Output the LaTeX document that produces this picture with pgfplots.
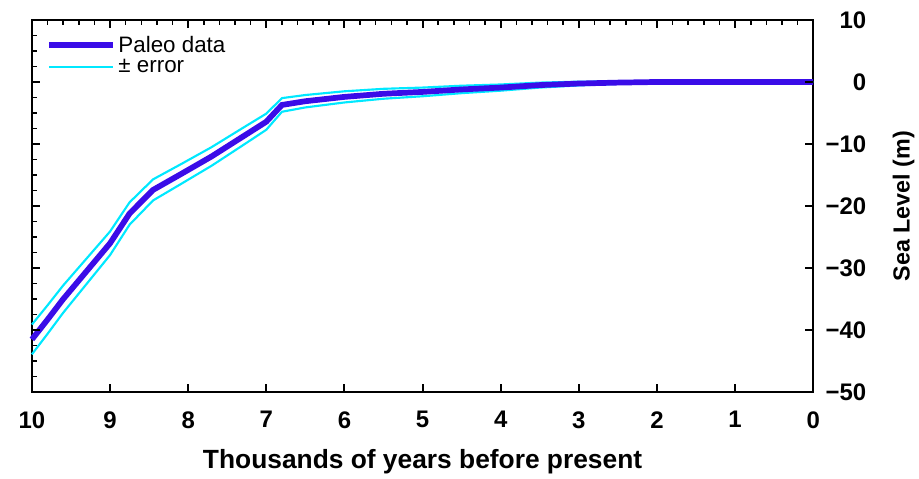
\documentclass[border=0pt]{standalone}
\usepackage{fontspec}
\setmainfont{Liberation Sans}
\usepackage{pgfplots}
\usepackage{pgfplotstable}
\pgfplotsset{compat=1.18}

\definecolor{paleo}{RGB}{58,12,232}
\definecolor{errc}{RGB}{0,232,255}

% x: thousands of years BP, y: sea level (m), lo/hi: error band
\pgfplotstableread{
x     y      lo     hi
10.0  -41.5  -43.9  -39.1
9.8   -38.3  -40.6  -36.0
9.6   -35.0  -37.2  -32.8
9.4   -32.0  -34.1  -29.9
9.2   -29.0  -31.0  -27.0
9.0   -26.0  -27.9  -24.1
8.75  -21.2  -23.0  -19.4
8.45  -17.4  -19.1  -15.7
8.1   -14.9  -16.5  -13.3
7.7   -12.0  -13.5  -10.5
7.3   -8.8   -10.2  -7.4
7.0   -6.4   -7.7   -5.1
6.8   -3.7   -4.8   -2.6
6.5   -3.1   -4.1   -2.1
6.0   -2.4   -3.3   -1.5
5.5   -1.9   -2.7   -1.1
5.0   -1.6   -2.3   -0.9
4.5   -1.2   -1.8   -0.6
4.0   -0.9   -1.4   -0.4
3.5   -0.5   -0.9   -0.1
3.0   -0.25  -0.55  0.05
2.5   -0.1   -0.3   0.1
2.0   0      -0.1   0.1
1.0   0      0      0
0     0      0      0
}\sealevel

\begin{document}
\begin{tikzpicture}
\begin{axis}[
  at={(0,0)}, anchor=south west,
  scale only axis, width=587.25pt, height=279.75pt,
  xmin=0, xmax=10, ymin=-50, ymax=10,
  x dir=reverse,
  axis line style={line width=1.8pt},
  xtick={0,1,...,10},
  ytick={-50,-40,...,10},
  yticklabels={−50,−40,−30,−20,−10,0,10},
  yticklabel pos=right,
  /pgf/number format/assume math mode=true,
  tick label style={font=\fontsize{18}{20}\selectfont\bfseries},
  yticklabel style={anchor=east, inner sep=0pt, xshift=40pt},
  xticklabel style={yshift=-11pt},
  xlabel={Thousands of years before present},
  ylabel={Sea Level (m)},
  every axis x label/.style={at={(axis description cs:0.5,0)}, anchor=center,
    yshift=-52pt, font=\fontsize{19.8}{22}\selectfont\bfseries},
  every axis y label/.style={at={(axis description cs:1,0.5)}, anchor=center,
    xshift=68pt, rotate=90, font=\fontsize{17.5}{20}\selectfont\bfseries},
  legend style={at={(axis description cs:0.018,0.965)}, anchor=north west,
    draw=none, fill=none, font=\fontsize{16.8}{17}\selectfont,
    row sep=0pt, inner sep=0pt},
  legend cell align=left,
  legend image code/.code={\draw[#1] (0pt,0pt) -- (48pt,0pt);},
  clip=false,
]
\addlegendimage{paleo, line width=4.3pt}
\addlegendentry{Paleo data}
\addlegendimage{errc, line width=1.6pt}
\addlegendentry{± error}
\addplot[errc, line width=1.6pt, forget plot] table[x=x, y=hi] {\sealevel};
\addplot[errc, line width=1.6pt, forget plot] table[x=x, y=lo] {\sealevel};
\addplot[paleo, line width=4.3pt, forget plot] table[x=x, y=y] {\sealevel};
% tick marks: majors on all sides, minors on top and left
\pgfplotsinvokeforeach{1,2,3,4,5,6,7,8,9}{
  \draw[line width=1.5pt] (axis cs:#1,-50) -- ++(0pt,6pt);
  \draw[line width=1.5pt] (axis cs:#1,10) -- ++(0pt,-6pt);
}
\pgfplotsinvokeforeach{-40,-30,-20,-10,0}{
  \draw[line width=1.5pt] (axis cs:10,#1) -- ++(6pt,0pt);
  \draw[line width=1.5pt] (axis cs:0,#1) -- ++(-6pt,0pt);
}
\pgfplotsinvokeforeach{0.2,0.4,0.6,0.8,1.2,1.4,1.6,1.8,2.2,2.4,2.6,2.8,3.2,3.4,3.6,3.8,4.2,4.4,4.6,4.8,5.2,5.4,5.6,5.8,6.2,6.4,6.6,6.8,7.2,7.4,7.6,7.8,8.2,8.4,8.6,8.8,9.2,9.4,9.6,9.8}{
  \draw[line width=1.2pt] (axis cs:#1,10) -- ++(0pt,-3.5pt);
}
\pgfplotsinvokeforeach{-47.5,-45,-42.5,-37.5,-35,-32.5,-27.5,-25,-22.5,-17.5,-15,-12.5,-7.5,-5,-2.5,2.5,5,7.5}{
  \draw[line width=1.2pt] (axis cs:10,#1) -- ++(3.5pt,0pt);
}
\end{axis}
\path (-24pt,-63.75pt) rectangle (665.25pt,294.75pt);
\end{tikzpicture}
\end{document}
